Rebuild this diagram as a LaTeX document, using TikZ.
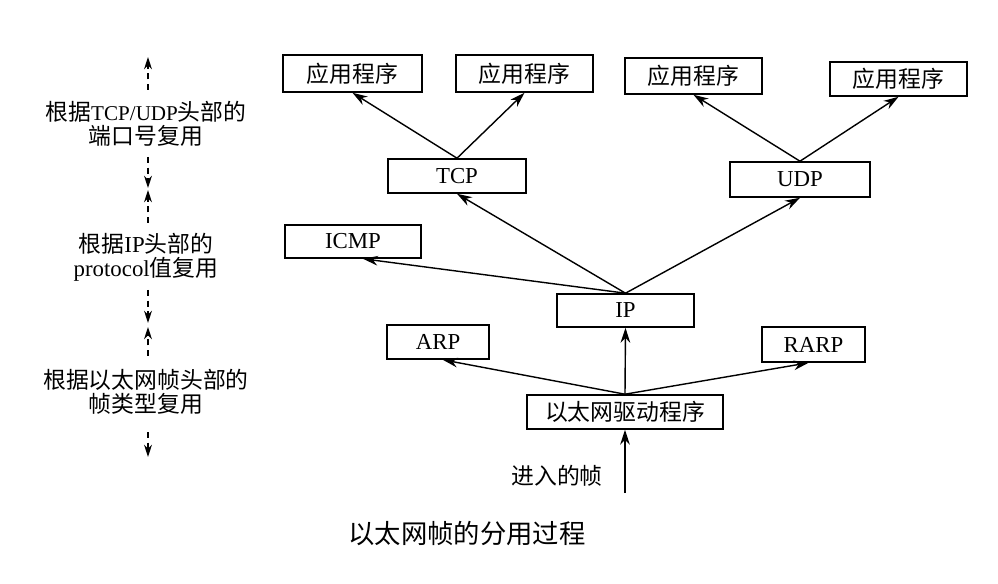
\documentclass[tikz,border=0pt]{standalone}
\usepackage{fontspec}
\setmainfont{Liberation Serif}
\newfontfamily\cjkfont{Noto Sans CJK SC}
\newcommand{\zhtext}[1]{{\cjkfont #1}}
\usetikzlibrary{arrows.meta}

\begin{document}
\begin{tikzpicture}[x=0.02cm, y=-0.02cm, line join=miter]

    \tikzset{%
      layer_box/.style   = {draw=black, line width=0.9pt, inner sep=2pt,
                            font=\fontsize{13}{15}\selectfont},
      demux_arrow/.style = {line width=0.8pt,
                            -{Stealth[length=8.5pt, width=5.5pt]}},
      level_dash/.style  = {line width=0.7pt, dash pattern=on 3.4pt off 2.6pt,
                            -{Stealth[length=7pt, width=4.5pt]}},
      level_label/.style = {align=center, inner sep=0pt,
                            font=\fontsize{13}{13.6}\selectfont}
    }

    \useasboundingbox (0,0) rectangle (998,584);

    % boxes: name / centre x / centre y / width / height / text
    \foreach \name/\x/\y/\w/\h/\txt in {%
      app1/352.5/73.5/139/37/{\zhtext{应用程序}},
      app2/524.5/73.5/137/37/{\zhtext{应用程序}},
      app3/693.5/76/137/36/{\zhtext{应用程序}},
      app4/898.5/79/137/34/{\zhtext{应用程序}},
      tcp/457/176/138/34/TCP,
      udp/800/179.5/140/35/UDP,
      icmp/353/241.5/136/33/ICMP,
      ip/625.5/310.5/137/33/IP,
      arp/438/342/102/34/ARP,
      rarp/813.5/344.5/103/35/RARP,
      driver/625/412/196/34/{\zhtext{以太网驱动程序}}%
    }{
      \node[layer_box, minimum width=\w*0.02cm, minimum height=\h*0.02cm]
        (\name) at (\x,\y) {\txt};
    }

    % demultiplexing arrows, from lower layer to upper layer
    \foreach \from/\to in {%
      tcp.north/app1.south, tcp.north/app2.south,
      udp.north/app3.south, udp.north/app4.south,
      ip.north/tcp.south, ip.north/udp.south, ip.north/icmp.-60,
      driver.north/arp.-75, driver.north/ip.south, driver.north/rarp.-105%
    }{
      \draw[demux_arrow] (\from) -- (\to);
    }

    \coordinate (frame_in) at (625,493);
    \draw[demux_arrow] (frame_in) -- (driver.south);
    \node[font=\fontsize{13}{15}\selectfont] (frame_lbl) at (557,476)
      {\zhtext{进入的帧}};

    % level labels on the left
    \node[level_label] (port_lbl) at (146,124)
      {\zhtext{根据}{\fontsize{12}{13.6}\selectfont TCP/UDP}\zhtext{头部的}\\
       \zhtext{端口号复用}};
    \node[level_label] (proto_lbl) at (146,257)
      {\zhtext{根据}IP\zhtext{头部的}\\ protocol\zhtext{值复用}};
    \node[level_label] (type_lbl) at (146,392)
      {\zhtext{根据以太网帧头部的}\\ \zhtext{帧类型复用}};

    % dashed markers: name / tail y / tip y
    \foreach \name/\ya/\yb in {%
      lvl1_up/90/57, lvl1_down/157/188,
      lvl2_up/223/190, lvl2_down/290/323,
      lvl3_up/356/327, lvl3_down/432/457%
    }{
      \coordinate (\name_tail) at (148,\ya);
      \coordinate (\name_tip) at (148,\yb);
      \draw[level_dash] (\name_tail) -- (\name_tip);
    }

    \node[font=\fontsize{15}{17}\selectfont] (caption) at (467,534)
      {\zhtext{以太网帧的分用过程}};

\end{tikzpicture}
\end{document}
